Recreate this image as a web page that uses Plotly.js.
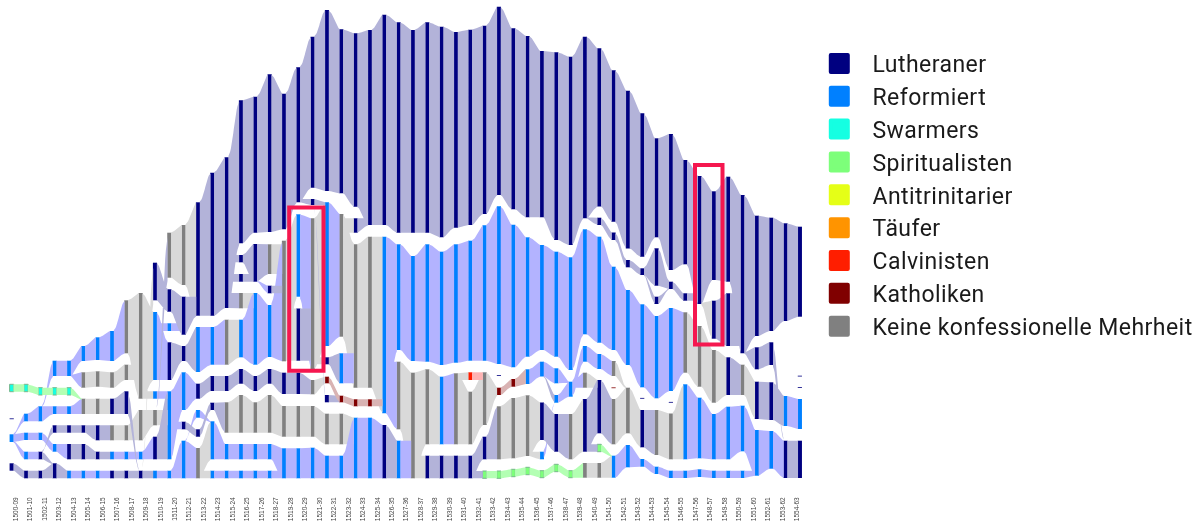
<!DOCTYPE html>
<html><head><meta charset="utf-8">
<script src="https://cdn.plot.ly/plotly-3.0.1.min.js"></script>
<style>html,body{margin:0;padding:0;background:#fff}
#chart{filter:blur(0.4px)}
.textpoint text{letter-spacing:.45px}
</style></head><body><div id="chart" style="width:1197px;height:523px"></div>
<script>
const periods=["1500-09","1501-10","1502-11","1503-12","1504-13","1505-14","1506-15","1507-16","1508-17","1509-18","1510-19","1511-20","1512-21","1513-22","1514-23","1515-24","1516-25","1517-26","1518-27","1519-28","1520-29","1521-30","1522-31","1523-32","1524-33","1525-34","1526-35","1527-36","1528-37","1529-38","1530-39","1531-40","1532-41","1533-42","1534-43","1535-44","1536-45","1537-46","1538-47","1539-48","1540-49","1541-50","1542-51","1543-52","1544-53","1545-54","1546-55","1547-56","1548-57","1549-58","1550-59","1551-60","1552-61","1553-62","1554-63"];
const confessions=["Lutheraner","Reformiert","Swarmers","Spiritualisten","Antitrinitarier","Täufer","Calvinisten","Katholiken","Keine konfessionelle Mehrheit"];
const colors=["#000080","#0080ff","#15ffe2","#7dff7a","#e5ff17","#ff9400","#ff1e00","#800000","#808080"];
const flowColors=["#b3b3d9","#b3b3ff","#b3ffb3","#b3ffb3","#f7ffb3","#ffdfb3","#ffb3b3","#d9b3b3","#d9d9d9"];
// each band: [period column, upper edge, lower edge]
const lutheraner=[[0,463.3,470.7],[1,470.7,478.3],[2,451.7,459.3],[2,470.7,478.3],[3,425.3,432.7],[3,463.3,478.3],[4,425.3,432.7],[4,444,459.3],[5,425.3,432.7],[5,444,459.3],[6,425.3,440.3],[6,451.7,459.3],[7,398.7,414],[7,470.7,478.3],[8,391.3,414],[8,470.7,478.3],[9,470.7,478.3],[10,262.7,300.3],[10,436.7,459.3],[11,289.3,311.7],[11,342.3,380],[12,296.7,334.7],[12,346,361],[12,421.7,429.3],[13,202.3,315.7],[13,383.7,398.7],[13,429.3,436.7],[14,172.7,315.7],[14,376,391],[14,402.7,410],[15,157.3,308],[15,376,391],[16,100.3,243.3],[16,255,262.3],[16,274,281.7],[16,369,383.7],[17,96.7,232.7],[17,244,281.7],[17,376,391],[18,74.3,232],[18,285.7,293.3],[18,369,383.7],[19,93.7,229.3],[19,372.7,394],[20,67.3,202.3],[20,308.5,360.7],[20,372.7,394],[21,36.7,187.7],[21,199,205],[22,10,191],[22,357.3,364.3],[22,395,402.3],[23,29.3,193.3],[24,33.3,206.7],[24,218.3,232.7],[25,30,225],[26,14.7,225],[26,425,478.3],[27,22.3,232.7],[28,30,232.7],[29,22.3,232.7],[29,455.7,478.3],[30,26.7,237.3],[30,455.7,478.3],[31,32,227.7],[31,455.7,478.3],[32,29.7,225],[32,455.7,478.3],[33,25.7,214],[33,436.7,459.3],[34,6.7,195],[35,28.3,209.3],[36,36,217.3],[37,51,217.3],[37,402.5,440],[38,52.3,240],[38,414,451.7],[39,56.7,245],[40,36.7,218.3],[40,399,451.7],[41,48.3,206.5],[41,217.7,225],[41,380,433.3],[42,70.3,221.7],[42,232.5,240],[43,90.7,248.5],[43,260,267.3],[44,113.3,256.7],[44,268.3,275],[44,410,447.3],[45,138.3,237.3],[45,248.3,285.7],[45,296.7,304],[46,134,270],[46,281.7,289],[47,160,264.3],[47,293.3,300.7],[48,176,304],[49,191.3,280],[49,300.7,338.7],[50,176.7,281.7],[50,293.3,346],[50,357.3,395],[51,195,353.3],[52,215.7,336],[52,347.3,369.3],[52,381.7,419],[53,217.7,331],[53,342.3,365],[53,382.3,420],[54,223.3,321],[54,440.7,478],[55,226.7,316.7],[55,440.7,478],[0,418.4,419.2],[34,375.2,376],[44,397.9,398.7],[46,401.9,402.7],[55,375.7,376.5],[55,387,387.8]];
const reformiert=[[0,434.3,442],[1,413.7,421.3],[1,432.7,440],[1,451.7,459.3],[2,406.3,421.3],[2,432.7,440],[3,360.7,376],[3,406.3,414],[3,444,451.7],[4,360.7,376],[4,406.3,414],[4,470.7,478.3],[5,346,361],[5,470.7,478.3],[6,337.3,360],[6,470.7,478.3],[7,331,361],[7,451.7,459.3],[8,451.7,459.3],[9,451.7,459.3],[10,312,380],[10,391.3,398.7],[10,470.7,478.3],[11,323.3,331],[11,391.3,459.3],[11,470.7,478.3],[12,372.3,410],[12,440.7,478.3],[13,327,372],[13,410,417.7],[14,327,364.7],[14,421.3,459.3],[14,470.7,478.3],[15,444,459.3],[15,470.7,478.3],[16,319.7,357.3],[16,444,459.3],[16,470.7,478.3],[17,293,364.7],[17,444,459.3],[17,470.7,478.3],[18,305,357],[18,444,459.3],[18,470.7,478.3],[19,448.3,478.3],[20,214.3,296.7],[20,448.3,478.3],[21,447.7,478.3],[22,202.3,346],[22,455.7,478.3],[23,353.3,383.3],[23,455.7,478.3],[24,417.7,478.3],[25,417.7,478.3],[26,236.7,413.3],[27,244.3,350],[27,440.7,478.3],[28,256,361],[29,244.3,361.7],[30,251.7,365],[30,376.7,444.3],[31,244.3,362.7],[32,240.7,360.7],[33,225.3,360.7],[34,206.3,364],[35,224.7,367.3],[36,237.3,356.7],[36,369.3,384],[37,245,350],[37,361.7,376.5],[37,451.7,459.3],[38,251.7,356.7],[38,368.3,383.3],[38,395,402.7],[39,257.3,370],[39,381.7,396.7],[40,229.3,334.3],[40,346,361.7],[41,236.7,342.7],[41,354,369],[42,266.7,350],[42,455.7,477.7],[43,290,365],[43,445,467.3],[44,304.3,387.3],[44,459,466.7],[45,316,398.3],[45,466.7,474],[46,308,391],[46,470.7,478],[47,384.3,459.3],[47,470.7,478],[48,397.7,458.3],[48,469.3,477],[49,414,459.3],[49,470.7,478],[50,406.7,459.3],[50,470.7,478],[51,405.7,451.3],[51,470.7,478],[52,430,475.7],[53,431,468.7],[54,396,426],[55,399,429]];
const swarmers=[[0,384.3,391.7],[1,384.3,391.7],[2,387.7,395],[3,387.7,395],[4,387.7,395]];
const spiritualisten=[[33,471,478.3],[34,471,478.3],[35,469.3,476.7],[36,467.3,474.7],[37,470.7,477.7],[38,464.3,471.7],[39,470.7,477.7],[41,444.3,451.7]];
const antitrinitarier=[];
const taeufer=[];
const calvinisten=[[32,372.3,380]];
const katholiken=[[22,376.7,383.3],[23,395.7,402.3],[24,399.3,406.3],[25,399.3,406.3],[34,387.7,395],[35,379,386.7],[42,387.4,388.2]];
const keineMehrheit=[[5,372.3,387.7],[5,398.7,414],[6,371.3,386.7],[6,398.7,414],[7,372.3,387.7],[7,425.3,440.3],[8,300.3,353.3],[8,364.7,380],[8,425.3,440.3],[9,293,398.7],[9,410,440.3],[10,410,425.3],[11,232.7,277.7],[12,225,285],[13,448,478.3],[15,319.7,364.7],[15,402.3,432.7],[16,293,308.3],[16,395,432.7],[17,402.3,432.7],[18,244.3,274],[18,395,432.7],[19,240.7,361.3],[19,406,436.7],[20,406,436.7],[21,218.3,369],[21,380,394.3],[21,406,436.7],[22,413.7,444.3],[23,214,336.7],[23,413.7,444.3],[24,244.3,387.7],[25,236.7,387.7],[27,361.7,429.3],[28,372.7,478.3],[29,369.3,444.3],[31,373.3,444.3],[32,391.7,444.3],[33,372.3,425],[34,406.3,459.3],[35,398,458.3],[36,395.3,456],[39,414,459.3],[40,372.7,387.7],[40,463,477.7],[41,463,477.7],[42,361,376],[42,399,444.3],[43,387.7,433.3],[45,410,455],[46,413.5,459.3],[47,312.3,372.7],[48,326,386.7],[49,350,402.7],[51,364.7,395]];
const bands=[lutheraner,reformiert,swarmers,spiritualisten,antitrinitarier,taeufer,calvinisten,katholiken,keineMehrheit];

// page-pixel <-> column scale
const X0=11.7, DX=14.33, BARW=4.2, BOTTOM=495;
const toCol=px=>(px-X0)/DX;
const labelPx=i=>15.7+i*14.47;

const nCols=56, cols=Array.from({length:nCols},()=>[]);
bands.forEach((list,cat)=>list.forEach(b=>cols[b[0]].push({cat,top:b[1],bot:b[2]})));
cols.forEach(c=>c.sort((p,q)=>p.top-q.top));
const overlap=(p,q)=>Math.max(0,Math.min(p.bot,q.bot)-Math.max(p.top,q.top));

// pair up the bands of neighbouring columns, top to bottom
function pairUp(a,b){
  const sc=(p,q)=>{
    const d=Math.abs((p.top+p.bot-q.top-q.bot)/2);
    return overlap(p,q)+(p.cat===q.cat?16:0)-0.28*d+2;
  };
  const n=a.length,m=b.length,T=Array.from({length:n+1},()=>Array(m+1).fill(0));
  for(let i=n-1;i>=0;i--)for(let j=m-1;j>=0;j--)
    T[i][j]=Math.max(T[i+1][j],T[i][j+1],sc(a[i],b[j])+T[i+1][j+1]);
  const out=[];let i=0,j=0;
  while(i<n&&j<m){
    if(T[i][j]===T[i+1][j])i++;
    else if(T[i][j]===T[i][j+1])j++;
    else{out.push([i,j]);i++;j++;}
  }
  return out;
}
const ribbons=confessions.map(()=>({x:[],y:[]}));
const bez=(t,p0,p1,p2,p3)=>{const u=1-t;return u*u*u*p0+3*u*u*t*p1+3*u*t*t*p2+t*t*t*p3;};
// curve parameter at which the link leaves the bar's edge (scatter lies over bars, so start there)
let tEdge=0;{let lo=0,hi=.5,e=BARW/2/DX-0.02;for(let k=0;k<30;k++){const m=(lo+hi)/2;if(bez(m,0,.5,.5,1)<e)lo=m;else hi=m;}tEdge=lo;}
function ribbon(c,cat,t0,b0,t1,b1){
  const xa=c, xb=c+1, mid=c+.5, N=16, R=ribbons[cat], tt=k=>tEdge+(1-2*tEdge)*k/N;
  for(let k=0;k<=N;k++){const t=tt(k);R.x.push(bez(t,xa,mid,mid,xb));R.y.push(bez(t,t0,t0,t1,t1));}
  for(let k=N;k>=0;k--){const t=tt(k);R.x.push(bez(t,xa,mid,mid,xb));R.y.push(bez(t,b0,b0,b1,b1));}
  R.x.push(null);R.y.push(null);
}
// a band with no partner: runs straight into whatever lies beside it, else tapers to the nearest band
function spare(s,others){
  const most=others.reduce((p,q)=>overlap(q,s)>overlap(p,s)?q:p);
  if(overlap(most,s)>=0.4*(s.bot-s.top))return [Math.max(most.top,s.top),Math.min(most.bot,s.bot)];
  let pool=others.filter(q=>q.cat===s.cat); if(!pool.length)pool=others;
  const best=pool.reduce((p,q)=>Math.abs(q.top-s.top)<Math.abs(p.top-s.top)?q:p);
  const e=s.top<best.top?best.top:best.bot-1;
  return [e,e+1];
}
for(let c=0;c<nCols-1;c++){
  const a=cols[c].filter(s=>s.bot-s.top>2), b=cols[c+1].filter(s=>s.bot-s.top>2);
  const pairs=pairUp(a,b), usedA=new Set(pairs.map(p=>p[0])), usedB=new Set(pairs.map(p=>p[1]));
  pairs.forEach(([i,j])=>ribbon(c,a[i].cat,a[i].top,a[i].bot,b[j].top,b[j].bot));
  a.forEach((s,i)=>{if(usedA.has(i)||!b.length)return;const [e0,e1]=spare(s,b);ribbon(c,s.cat,s.top,s.bot,e0,e1);});
  b.forEach((s,j)=>{if(usedB.has(j)||!a.length)return;const [e0,e1]=spare(s,a);
    const src=a.reduce((p,q)=>overlap(q,s)>overlap(p,s)?q:p);ribbon(c,overlap(src,s)>0?src.cat:s.cat,e0,e1,s.top,s.bot);});
}

const traces=[];
[8,1,0,2,3,4,5,7,6].forEach(k=>{
  if(!ribbons[k].x.length)return;
  traces.push({type:'scatter',mode:'lines',x:ribbons[k].x,y:ribbons[k].y,fill:'toself',fillcolor:flowColors[k],line:{width:0},hoverinfo:'skip',showlegend:false,connectgaps:false});
});
bands.forEach((list,k)=>{
  if(!list.length)return;
  const edged=(k===2||k===3);
  traces.push({type:'bar',name:confessions[k],x:list.map(b=>b[0]),base:list.map(b=>b[1]),y:list.map(b=>b[2]-b[1]),width:BARW/DX,
    marker:{color:colors[k],line:{width:edged?1:0,color:edged?'#79b58c':colors[k]}},showlegend:false});
});
const legY=i=>63.4+i*32.85;
traces.push({type:'scatter',mode:'markers',x:confessions.map(()=>toCol(839.3)),y:confessions.map((_,i)=>legY(i)),
  marker:{symbol:'square',size:17,color:colors,line:{width:4,color:colors}},hoverinfo:'skip',showlegend:false});
traces.push({type:'scatter',mode:'text',x:confessions.map(()=>toCol(872.5)),y:confessions.map((_,i)=>legY(i)+3),text:confessions,textposition:'middle right',
  textfont:{family:'Roboto, sans-serif',size:23,color:'#1a1a1a'},hoverinfo:'skip',showlegend:false});

const highlight=(x0,x1,y0,y1)=>({type:'rect',xref:'x',yref:'y',x0:toCol(x0),x1:toCol(x1),y0,y1,line:{color:'#f5174f',width:4},fillcolor:'rgba(0,0,0,0)',layer:'above'});
const layout={width:1197,height:523,margin:{l:0,r:0,t:0,b:523-BOTTOM},paper_bgcolor:'#fff',plot_bgcolor:'#fff',barmode:'overlay',showlegend:false,
  xaxis:{range:[toCol(0),toCol(1197)],showgrid:false,zeroline:false,showline:false,ticks:'',tickmode:'array',tickvals:periods.map((_,i)=>toCol(labelPx(i))),ticktext:periods,tickangle:-90,tickfont:{family:'Liberation Sans, Arial, sans-serif',size:6.5,color:'#444'},automargin:false},
  yaxis:{range:[BOTTOM,0],showgrid:false,zeroline:false,showline:false,showticklabels:false,ticks:''},
  shapes:[highlight(289.2,323.5,207.5,370.8),highlight(695,722.5,165,344.5)]};
Plotly.newPlot('chart',traces,layout,{displayModeBar:false,staticPlot:true}).then(()=>{
  document.querySelectorAll('.scatterlayer .points path').forEach(p=>p.style.strokeLinejoin='round');
});
</script></body></html>
